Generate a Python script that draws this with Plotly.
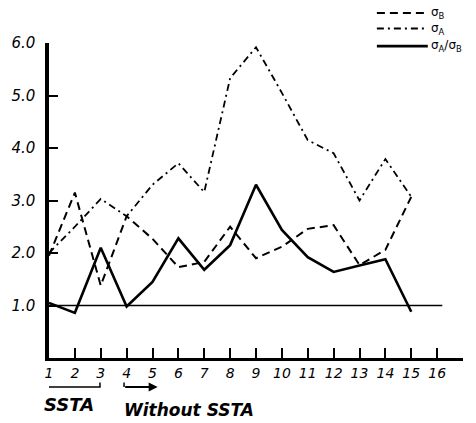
import plotly.graph_objects as go

runs = list(range(1, 16))
sigma_b = [1.95, 3.15, 1.38, 2.70, 2.27, 1.73, 1.83, 2.50, 1.90, 2.12, 2.46, 2.53, 1.77, 2.06, 3.07]
sigma_a = [2.00, 2.50, 3.03, 2.70, 3.30, 3.71, 3.16, 5.33, 5.92, 5.05, 4.15, 3.90, 3.00, 3.79, 3.07]
ratio = [1.05, 0.86, 2.10, 0.98, 1.45, 2.28, 1.68, 2.15, 3.30, 2.44, 1.92, 1.64, 1.76, 1.88, 0.88]

series_names = ["σ<sub>B</sub>", "σ<sub>A</sub>", "σ<sub>A</sub>/σ<sub>B</sub>"]

x_tickvals = list(range(1, 18))
x_ticktext = [str(v) for v in range(1, 17)] + [""]
y_tickvals = [1, 2, 3, 4, 5, 6]
y_ticktext = ["1.0", "2.0", "3.0", "4.0", "5.0", "6.0"]

FONT = "DejaVu Sans"
styles = [
    dict(color="black", width=2, dash="8px,5px"),
    dict(color="black", width=1.8, dash="7px,4px,2px,4px"),
    dict(color="black", width=2.6),
]

fig = go.Figure()
for name, ys, st in zip(series_names, [sigma_b, sigma_a, ratio], styles):
    fig.add_trace(go.Scatter(x=runs, y=ys, mode="lines", name=name, line=st,
                             showlegend=False))

# reference line at 1.0
fig.add_shape(type="line", xref="x", yref="y", x0=1, x1=16.2, y0=1, y1=1,
              line=dict(color="black", width=1.6))

# hand-style legend (top right)
leg_y = [1.095, 1.046, 0.990]
for name, st, ly in zip(series_names, styles, leg_y):
    fig.add_shape(type="line", xref="paper", yref="paper", x0=0.792, x1=0.915,
                  y0=ly, y1=ly, line=st)
    fig.add_annotation(x=0.918, y=ly, xref="paper", yref="paper", text=name,
                       showarrow=False, xanchor="left", yanchor="middle",
                       font=dict(family=FONT, size=12, color="black"))

# bracket under 1-3 (SSTA)
fig.add_shape(type="path", xref="x", yref="paper",
              path="M 0.92,-0.078 L 0.92,-0.092 L 2.97,-0.092 L 2.97,-0.078",
              line=dict(color="black", width=1.5))
# arrow for Without SSTA
fig.add_annotation(x=5.2, y=-0.092, ax=-34, ay=0, xref="x", yref="paper",
                   axref="pixel", ayref="pixel", showarrow=True, arrowhead=2,
                   arrowsize=1, arrowwidth=1.8, arrowcolor="black", text="")
fig.add_shape(type="line", xref="x", yref="paper", x0=3.9, x1=3.9, y0=-0.078, y1=-0.092,
              line=dict(color="black", width=1.5))

fig.add_annotation(x=2.85, y=6.02, xref="x", yref="y", text="Globe", showarrow=False,
                   xanchor="left", yanchor="middle",
                   font=dict(family=FONT, size=19, color="black", style="italic"))
fig.add_annotation(x=-0.017, y=-0.149, xref="paper", yref="paper", text="<b>SSTA</b>",
                   showarrow=False, xanchor="left", yanchor="middle",
                   font=dict(family=FONT, size=18, color="black", style="italic"))
fig.add_annotation(x=3.82, y=-0.165, xref="x", yref="paper", text="<b>Without SSTA</b>",
                   showarrow=False, xanchor="left", yanchor="middle",
                   font=dict(family=FONT, size=17, color="black", style="italic"))

fig.update_xaxes(range=[1, 17], tickvals=x_tickvals, ticktext=x_ticktext,
                 showline=True, linecolor="black", linewidth=3, mirror=False,
                 ticks="inside", ticklen=10, tickwidth=2, tickcolor="black",
                 showgrid=False, zeroline=False,
                 tickfont=dict(family=FONT, size=14, color="black", style="italic"))
fig.update_yaxes(range=[0, 6], tickvals=y_tickvals, ticktext=y_ticktext,
                 showline=True, linecolor="black", linewidth=3.5,
                 ticks="inside", ticklen=9, tickwidth=2, tickcolor="black",
                 showgrid=False, zeroline=False, ticklabelstandoff=7,
                 tickfont=dict(family=FONT, size=15, color="black", style="italic"))

fig.update_layout(
    width=476, height=423,
    margin=dict(l=49, r=13, t=43, b=65, autoexpand=False),
    plot_bgcolor="white", paper_bgcolor="white",
    showlegend=False,
)

fig.write_html("out.html")
